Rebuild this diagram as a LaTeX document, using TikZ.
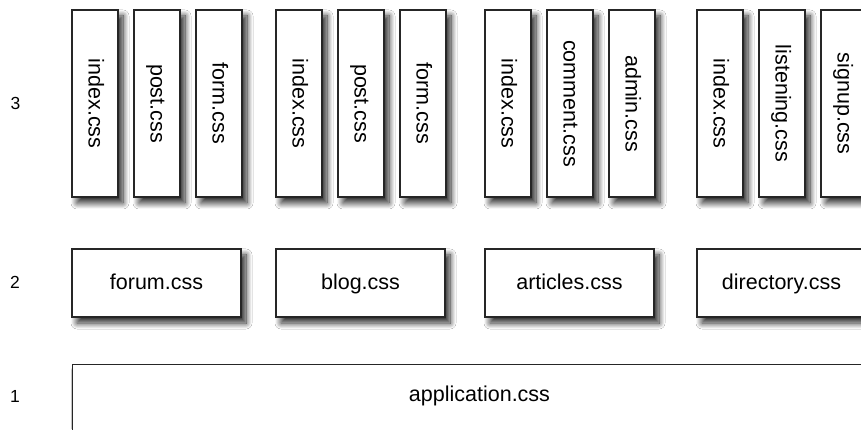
\documentclass[tikz,border=0pt]{standalone}
\usepackage{fontspec}
\setmainfont{Liberation Sans}
\usepackage{graphicx}
\usetikzlibrary{shadows.blur}
\definecolor{edge}{gray}{0.15}
\newcommand{\lstrut}{\rule[-4pt]{0pt}{21pt}}
\newcommand{\vtext}[1]{\rotatebox{-90}{\lstrut#1}}
\newcommand{\htext}[1]{\lstrut#1}
\tikzset{
  cssbox/.style={draw=edge, line width=1.1pt, fill=white, inner sep=0pt,
    font=\fontsize{21.5}{24}\selectfont,
    blur shadow={shadow xshift=5pt, shadow yshift=-6pt, shadow blur radius=6pt,
      shadow blur steps=12, shadow opacity=85}},
  tallbox/.style={cssbox, minimum width=46pt, minimum height=187pt},
  widebox/.style={cssbox, minimum width=169pt, minimum height=68pt},
  levelnum/.style={font=\fontsize{17.5}{20}\selectfont, inner sep=0pt}
}
\begin{document}
\begin{tikzpicture}[x=1pt,y=1pt]
\useasboundingbox (0,0) rectangle (861,429);
\clip (0,0) rectangle (861,429);
\fill[white] (0,0) rectangle (861,429);

% level numbers
\node[levelnum] (n3) at (15.5,325.5) {3};
\node[levelnum] (n2) at (15,147) {2};
\node[levelnum] (n1) at (15,32.5) {1};

% level 1
\node[cssbox, minimum width=815pt, minimum height=120pt, anchor=north west] (app) at (72,65) {};
\node[font=\fontsize{21.5}{24}\selectfont, inner sep=0pt] (apptext) at (479.5,33.5) {\htext{application.css}};

% level 2
\node[widebox] (forum) at (156.5,146) {\htext{forum.css}};
\node[widebox] (blog) at (360.5,146) {\htext{blog.css}};
\node[widebox] (articles) at (569.5,146) {\htext{articles.css}};
\node[widebox] (directory) at (781.5,146) {\htext{directory.css}};

% level 3
\node[tallbox] (f1) at (95,325.5) {\vtext{index.css}};
\node[tallbox] (f2) at (157,325.5) {\vtext{post.css}};
\node[tallbox] (f3) at (219,325.5) {\vtext{form.css}};

\node[tallbox] (b1) at (299,325.5) {\vtext{index.css}};
\node[tallbox] (b2) at (361,325.5) {\vtext{post.css}};
\node[tallbox] (b3) at (423,325.5) {\vtext{form.css}};

\node[tallbox] (a1) at (508,325.5) {\vtext{index.css}};
\node[tallbox] (a2) at (570,325.5) {\vtext{comment.css}};
\node[tallbox] (a3) at (632,325.5) {\vtext{admin.css}};

\node[tallbox] (d1) at (720,325.5) {\vtext{index.css}};
\node[tallbox] (d2) at (782,325.5) {\vtext{listening.css}};
\node[tallbox] (d3) at (844,325.5) {\vtext{signup.css}};
\end{tikzpicture}
\end{document}
